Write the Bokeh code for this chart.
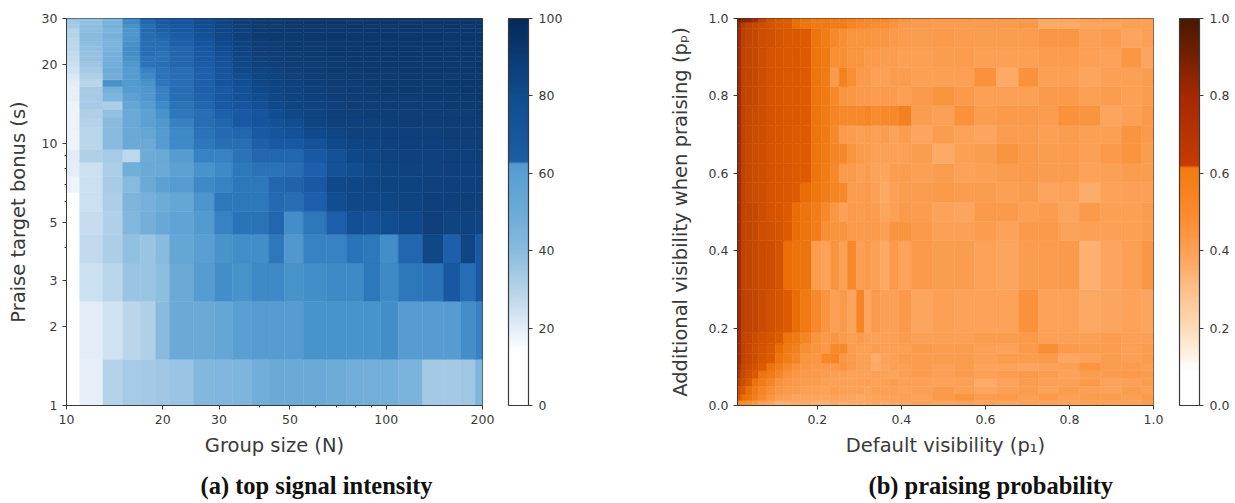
import numpy as np
from bokeh.embed import file_html
from bokeh.resources import INLINE
from bokeh.layouts import row
from bokeh.models import (ColumnDataSource, LinearColorMapper, ColorBar, FixedTicker,
                          BasicTickFormatter, Title, Range1d)
from bokeh.plotting import figure

# ---------- panel (a): top signal intensity ----------
group_size_edges = [10,11,13,15,17,19,21,25,29,33,38,43,48,55,65,75,85,96,109,130,151,171,190,200]
bonus_edges = [1,1.5,2.5,3.5,4.5,5.5,6.5,7.5,8.5,9.5,10.5,11.5,12.5,13.5,14.5,15.5,16.5,17.5,18.5,
               19.5,20.5,21.5,22.5,23.5,24.5,25.5,26.5,27.5,28.5,29.5,30]
# rows from s=1 (bottom) to s=30 (top)
intensity = [
 [8,19,30,33,34,35,36,42,43,44,48,50,50,50,49,48,47,47,45,34,34,35,44],
 [10,20,24,29,31,40,50,50,52,55,56,56,56,60,60,60,60,61,56,56,56,61,63],
 [14,25,29,36,36,39,50,56,61,60,62,62,60,61,62,62,64,62,64,65,73,66,72],
 [13,27,32,38,36,40,52,55,60,61,61,64,58,63,63,65,64,61,68,82,70,84,72],
 [13,26,31,42,47,51,53,57,63,65,65,68,61,64,70,77,76,78,80,88,85,86,85],
 [12,25,32,44,46,49,52,59,64,64,64,67,66,70,78,82,82,83,85,88,88,89,88],
 [18,25,33,41,50,54,56,62,63,64,64,68,69,72,80,83,84,85,86,87,88,88,88],
 [20,25,32,48,50,50,54,60,62,64,65,65,66,70,76,78,82,85,86,87,88,88,88],
 [20,31,33,28,49,50,56,63,63,65,68,68,68,72,76,82,84,86,87,87,88,88,89],
 [18,29,40,50,50,56,62,64,66,66,70,72,72,76,80,84,86,87,88,88,89,89,90],
 [18,29,40,50,52,56,62,65,67,68,72,74,76,80,84,87,87,88,88,89,90,90,90],
 [18,30,40,50,54,58,63,66,68,72,74,76,78,84,87,88,88,89,90,90,91,91,91],
 [18,31,38,50,54,60,64,66,70,72,74,78,82,85,88,89,90,90,90,91,91,91,92],
 [18,33,32,52,56,62,65,68,72,74,77,80,84,86,88,90,90,91,91,91,92,92,92],
 [19,33,44,54,58,63,66,69,73,76,78,82,85,87,89,90,91,91,91,92,92,92,93],
 [19,33,46,56,58,63,66,70,72,76,80,84,86,88,90,91,91,92,92,92,92,93,93],
 [20,29,60,57,60,64,66,70,74,77,82,85,87,89,91,91,92,92,92,92,93,93,93],
 [22,31,47,56,62,65,66,70,74,78,84,86,88,90,91,92,92,92,93,93,92,93,93],
 [24,33,49,56,63,65,66,70,74,80,85,87,89,91,92,92,93,92,93,93,93,93,93],
 [25,35,48,58,65,66,68,71,75,82,87,89,90,91,92,93,93,93,93,93,93,93,94],
 [26,37,47,60,65,65,68,72,76,83,88,90,91,92,92,93,93,93,93,93,93,93,93],
 [27,37,46,61,66,65,68,72,77,84,89,90,91,92,93,93,93,93,93,93,93,93,93],
 [28,38,45,61,66,66,68,73,78,85,90,91,92,92,93,93,93,94,93,93,94,93,94],
 [28,39,44,60,66,66,70,74,79,86,90,91,92,92,93,93,94,93,93,94,93,93,93],
 [29,40,45,59,66,67,70,75,80,87,91,92,92,93,93,93,93,93,94,93,93,94,93],
 [30,40,46,58,66,68,71,76,82,88,92,92,92,93,94,93,93,94,93,94,93,93,94],
 [30,39,44,59,67,70,72,77,83,88,92,93,93,93,93,93,94,93,93,93,93,94,93],
 [33,39,46,60,66,71,73,78,84,89,92,92,93,93,93,94,93,93,94,93,94,93,94],
 [34,38,45,62,68,72,74,79,85,90,92,92,93,94,94,93,94,94,93,94,94,94,94],
 [38,38,44,62,70,74,76,80,86,91,93,93,94,94,94,94,94,94,94,94,94,94,94],
]
a_xticks = [10,20,30,50,100,200]
a_xminor = [40,60,70,80,90]
a_yticks = [1,2,3,5,10,20,30]
a_yminor = [4,6,7,8,9]
a_cbar_ticks = [0,20,40,60,80,100]

# ---------- panel (b): praising probability ----------
default_vis_edges = [0.01,0.02,0.03,0.045,0.06,0.08,0.1,0.12,0.14,0.16,0.186,0.21,0.231,0.252,0.272,0.293,
                     0.312,0.329,0.35,0.372,0.393,0.424,0.474,0.526,0.574,0.626,0.679,0.726,0.774,0.824,
                     0.874,0.924,0.972,1.0]
extra_vis_edges = [0,0.013,0.03,0.05,0.07,0.09,0.11,0.135,0.16,0.189,0.30,0.426,0.476,0.525,0.576,0.625,
                   0.677,0.724,0.775,0.824,0.873,0.925,0.974,0.99,1.0]
# rows from the bottom to the top, in percent
praising = [
 [52,50,48,45,42,40,36,36,38,38,36,36,38,37,38,38,38,40,38,40,40,41,40,41,41,40,42,41,41,42,42,42,43],
 [64,62,60,55,50,46,43,42,40,40,40,40,41,40,40,39,40,41,41,41,42,41,44,46,43,44,42,44,42,43,43,42,44],
 [68,64,62,57,52,48,45,44,43,42,42,41,43,42,41,42,40,42,42,42,41,42,44,42,40,42,43,41,43,42,41,43,42],
 [72,68,64,61,56,51,47,45,44,43,43,42,42,42,41,42,42,41,42,43,42,42,41,42,38,41,43,42,42,44,41,42,43],
 [76,70,67,63,60,56,51,47,45,44,44,43,42,42,41,41,41,42,41,40,42,43,42,43,42,43,44,43,41,43,43,44,43],
 [78,71,69,66,63,60,55,50,47,45,44,44,44,46,44,42,42,38,40,42,42,43,42,43,41,41,40,41,42,46,43,43,42],
 [80,72,70,68,65,63,60,56,52,46,45,50,52,45,44,42,42,37,41,42,43,43,43,43,42,43,43,44,39,41,43,42,43],
 [80,72,70,68,66,64,62,58,54,48,46,44,50,50,43,42,42,43,42,42,42,44,43,43,42,41,44,48,44,43,43,42,43],
 [80,72,71,69,67,65,63,60,58,52,46,44,45,44,42,44,42,41,42,42,43,42,42,42,43,43,44,42,42,42,43,42,42],
 [80,73,72,71,69,67,65,63,62,58,50,46,42,44,40,52,40,44,42,42,44,40,42,41,41,41,47,41,41,39,40,41,40],
 [80,72,71,70,69,68,66,62,61,60,43,41,46,42,50,42,44,42,38,44,41,44,43,43,41,40,43,43,44,36,40,42,45],
 [80,72,71,70,68,67,65,63,62,60,56,48,46,46,44,44,44,44,42,46,46,44,42,42,43,41,44,44,41,42,42,42,43],
 [80,72,71,70,68,66,65,63,62,60,56,50,45,42,44,43,44,43,40,42,44,43,41,40,44,44,42,43,40,44,42,42,43],
 [80,72,70,69,68,66,65,64,63,62,59,56,52,50,43,43,44,42,38,42,43,43,44,43,43,42,43,40,41,37,41,42,42],
 [80,72,70,69,68,66,65,64,63,63,60,56,50,44,44,42,43,41,40,43,43,42,43,41,42,43,44,43,43,41,42,43,43],
 [80,72,70,69,68,66,65,64,63,63,60,57,52,50,46,44,43,42,42,42,42,43,38,42,43,46,44,43,43,42,44,46,43],
 [80,72,70,69,68,66,65,64,63,63,60,57,50,44,43,42,43,42,43,41,43,40,43,41,40,43,43,42,43,42,42,46,44],
 [80,72,70,69,68,66,65,64,64,63,60,57,52,50,50,50,52,49,50,50,54,43,42,47,43,44,44,43,47,46,40,42,44],
 [80,72,71,70,68,66,65,64,64,63,60,57,50,46,45,44,44,43,44,43,42,44,46,44,42,42,42,44,44,42,43,42,43],
 [80,72,71,70,68,66,65,64,64,63,60,57,44,54,48,44,44,42,42,43,43,42,42,42,47,38,47,42,42,40,42,42,43],
 [80,72,71,70,68,66,65,64,64,63,60,57,48,48,46,46,44,44,43,43,42,42,43,43,42,42,42,43,43,42,41,45,40],
 [80,73,71,70,68,67,65,64,64,63,60,56,50,48,46,46,46,45,45,44,43,43,44,43,43,43,43,45,45,42,43,40,42],
 [82,74,72,70,68,66,64,63,62,60,58,58,56,56,52,50,50,48,48,46,44,44,43,43,44,44,45,38,38,40,40,42,42],
 [90,88,84,80,72,66,64,63,62,60,58,58,56,56,54,52,50,50,50,48,46,44,44,44,44,44,44,40,40,42,42,42,42],
]
b_ticks = [0.0,0.2,0.4,0.6,0.8,1.0]
b_xticks = [0.2,0.4,0.6,0.8,1.0]


def ramp(stops, n=400):
    pos = np.array([s[0] for s in stops], dtype=float)
    rgb = np.array([[int(s[1][i:i+2], 16) for i in (1, 3, 5)] for s in stops], dtype=float)
    t = np.linspace(0, pos[-1], n)
    chan = [np.interp(t, pos, rgb[:, k]) for k in range(3)]
    return ["#%02x%02x%02x" % (int(r), int(g), int(b)) for r, g, b in zip(*chan)]


blues = ramp([(0,"#ffffff"),(14,"#ffffff"),(20,"#e3eef8"),(30,"#b5d3ea"),(40,"#8abce0"),(50,"#6cabd8"),
              (60,"#4a94cc"),(63,"#3a85c5"),(64,"#2e78bc"),(68,"#2267b0"),(72,"#1a5aa5"),(80,"#0f4a8c"),
              (90,"#103f78"),(100,"#062a5c")])
blues_bar = ramp([(0,"#ffffff"),(14,"#ffffff"),(20,"#e3eef8"),(30,"#b5d3ea"),(40,"#8abce0"),(50,"#6cabd8"),
                  (60,"#5aa0d4"),(62.5,"#5499d0"),(63,"#1d5fa3"),(80,"#0f4d8e"),(100,"#062a5c")])
oranges = ramp([(0,"#ffffff"),(9,"#ffffff"),(20,"#fddcb8"),(30,"#fdc08a"),(40,"#fda65f"),(50,"#f88a2c"),
                (62,"#ec7208"),(63,"#dd5c00"),(70,"#c84a00"),(80,"#a52c00"),(100,"#4a1800")])
oranges_bar = ramp([(0,"#ffffff"),(9,"#ffffff"),(20,"#fddcb8"),(30,"#fdc08a"),(40,"#fda056"),(50,"#fd8a2c"),
                    (61.5,"#f57a10"),(62,"#c83c00"),(80,"#a52a00"),(100,"#4a1800")])


def cells(xe, ye, vals):
    left, right, bottom, top, v = [], [], [], [], []
    for j, r in enumerate(vals):
        for i, c in enumerate(r):
            left.append(xe[i]); right.append(xe[i+1])
            bottom.append(ye[j]); top.append(ye[j+1]); v.append(c)
    return ColumnDataSource(dict(left=left, right=right, bottom=bottom, top=top, value=v))


INK = "#3a3a3a"


def style(p, xlabel, ylabel, caption, cap_offset, yl_standoff):
    for ax, lab in ((p.xaxis[0], xlabel), (p.yaxis[0], ylabel)):
        ax.axis_label = lab
        ax.axis_label_text_font = "DejaVu Sans"
        ax.axis_label_text_font_style = "normal"
        ax.axis_label_text_font_size = "19.5px"
        ax.axis_label_text_color = INK
        ax.major_label_text_font = "DejaVu Sans"
        ax.major_label_text_font_size = "12.5px"
        ax.major_label_text_color = INK
        ax.axis_line_color = INK
        ax.major_tick_line_color = INK
        ax.minor_tick_line_color = INK
        ax.major_tick_in = 0
        ax.major_tick_out = 4
        ax.minor_tick_in = 0
        ax.minor_tick_out = 2
    p.xaxis[0].axis_label_standoff = 7
    p.yaxis[0].axis_label_standoff = yl_standoff
    p.grid.visible = False
    p.outline_line_color = INK
    p.outline_line_width = 1
    p.background_fill_color = "white"
    p.add_layout(Title(text=caption, text_font="Liberation Serif", text_font_size="24.5px",
                       text_font_style="bold", text_color="#111111", align="left", offset=cap_offset,
                       standoff=20), "below")


def cbar(p, palette, ticks, fmt):
    mapper = LinearColorMapper(palette=palette, low=0, high=100)
    cb = ColorBar(color_mapper=mapper, width=20, height=387, padding=0, location=(442, 0),
                  ticker=FixedTicker(ticks=ticks), major_label_overrides=fmt,
                  major_label_text_font="DejaVu Sans", major_label_text_font_size="12.5px",
                  major_label_text_color=INK, major_tick_line_color=INK, major_tick_in=0, major_tick_out=4,
                  minor_tick_line_color=None, bar_line_color=INK, bar_line_width=1.2, label_standoff=6,
                  background_fill_color=None, border_line_color=None)
    p.add_layout(cb, "center")


# panel a
pa = figure(frame_width=416, frame_height=387, width=620, height=503, x_axis_type="log", y_axis_type="log",
            x_range=Range1d(10, 200), y_range=Range1d(1, 30),
            output_backend="svg", toolbar_location=None,
            min_border_left=66, min_border_top=18, min_border_bottom=98, min_border_right=138)
ma = LinearColorMapper(palette=blues, low=0, high=100)
pa.quad(left="left", right="right", bottom="bottom", top="top", source=cells(group_size_edges, bonus_edges, intensity),
        fill_color={"field": "value", "transform": ma}, line_color={"field": "value", "transform": ma}, line_width=0.5)
pa.xaxis[0].ticker = FixedTicker(ticks=a_xticks, minor_ticks=a_xminor)
pa.yaxis[0].ticker = FixedTicker(ticks=a_yticks, minor_ticks=a_yminor)
pa.xaxis[0].formatter = BasicTickFormatter()
pa.yaxis[0].formatter = BasicTickFormatter()
style(pa, "Group size (N)", "Praise target bonus (s)", "(a) top signal intensity", 134, 9)
cbar(pa, blues_bar, a_cbar_ticks, {t: str(t) for t in a_cbar_ticks})

# panel b
pb = figure(frame_width=416, frame_height=387, width=615, height=503,
            x_range=Range1d(0.01, 1.0), y_range=Range1d(0, 1),
            output_backend="svg", toolbar_location=None,
            min_border_left=117, min_border_top=18, min_border_bottom=98, min_border_right=82)
mb = LinearColorMapper(palette=oranges, low=0, high=100)
pb.quad(left="left", right="right", bottom="bottom", top="top", source=cells(default_vis_edges, extra_vis_edges, praising),
        fill_color={"field": "value", "transform": mb}, line_color={"field": "value", "transform": mb}, line_width=0.5)
pb.xaxis[0].ticker = FixedTicker(ticks=b_xticks)
pb.yaxis[0].ticker = FixedTicker(ticks=b_ticks)
pb.xaxis[0].major_label_overrides = {t: f"{t:.1f}" for t in b_xticks}
pb.yaxis[0].major_label_overrides = {t: f"{t:.1f}" for t in b_ticks}
style(pb, "Default visibility (p₁)", "Additional visibility when praising (pₚ)", "(b) praising probability", 131, 14)
cb_ticks = [round(t * 100) for t in b_ticks]
cbar(pb, oranges_bar, cb_ticks, {t: f"{t/100:.1f}" for t in cb_ticks})

layout = row(pa, pb, spacing=0)
open("out.html", "w").write(file_html(layout, INLINE))
